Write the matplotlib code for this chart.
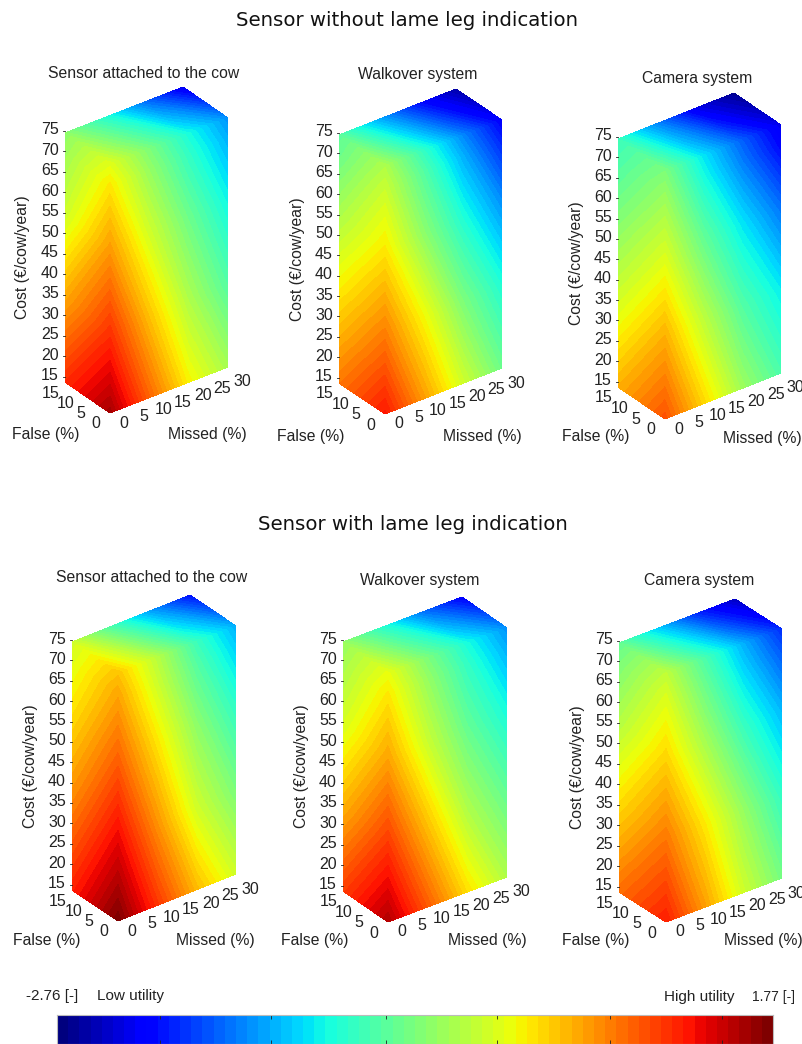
import matplotlib
matplotlib.use('Agg')
import matplotlib.pyplot as plt
import numpy as np

plt.rcParams['font.family'] = ['Liberation Sans', 'DejaVu Sans']

# Lattice the utilities were read on
cost_levels = np.array([15, 35, 55, 70, 75])
missed_levels = np.array([0, 10, 20, 30])
false_levels = np.array([0, 15])

cost_ticks = np.arange(15, 80, 5)
false_ticks = [0, 5, 10, 15]
missed_ticks = [0, 5, 10, 15, 20, 25, 30]

# Utilities as a position on the colour scale (0 = low utility, 1 = high utility).
# *_front: false = 0, rows = cost, columns = missed
# *_side: missed = 0, false = 15, one value per cost
# *_back: cost = 75, false = 15, missed = 10, 20, 30
attached_plain_front = [[0.96, 0.80, 0.65, 0.55],
                        [0.85, 0.70, 0.56, 0.45],
                        [0.74, 0.60, 0.48, 0.37],
                        [0.66, 0.53, 0.41, 0.30],
                        [0.62, 0.50, 0.38, 0.27]]
attached_plain_side = [0.86, 0.73, 0.60, 0.54, 0.52]
attached_plain_back = [0.40, 0.24, 0.10]

walkover_plain_front = [[0.88, 0.74, 0.60, 0.48],
                        [0.77, 0.64, 0.50, 0.39],
                        [0.66, 0.52, 0.39, 0.27],
                        [0.59, 0.45, 0.30, 0.16],
                        [0.56, 0.41, 0.26, 0.12]]
walkover_plain_side = [0.78, 0.67, 0.56, 0.48, 0.46]
walkover_plain_back = [0.30, 0.15, 0.04]

camera_plain_front = [[0.82, 0.68, 0.54, 0.44],
                      [0.72, 0.58, 0.45, 0.36],
                      [0.61, 0.47, 0.35, 0.24],
                      [0.53, 0.38, 0.25, 0.13],
                      [0.50, 0.35, 0.22, 0.10]]
camera_plain_side = [0.72, 0.61, 0.51, 0.44, 0.42]
camera_plain_back = [0.26, 0.10, 0.02]

attached_leg_front = [[0.995, 0.85, 0.71, 0.60],
                      [0.90, 0.75, 0.60, 0.50],
                      [0.80, 0.66, 0.52, 0.41],
                      [0.73, 0.59, 0.45, 0.33],
                      [0.70, 0.57, 0.42, 0.30]]
attached_leg_side = [0.87, 0.77, 0.68, 0.62, 0.60]
attached_leg_back = [0.44, 0.28, 0.14]

walkover_leg_front = [[0.95, 0.81, 0.67, 0.56],
                      [0.84, 0.70, 0.56, 0.47],
                      [0.73, 0.59, 0.47, 0.38],
                      [0.66, 0.53, 0.41, 0.30],
                      [0.63, 0.50, 0.38, 0.27]]
walkover_leg_side = [0.84, 0.72, 0.61, 0.55, 0.53]
walkover_leg_back = [0.40, 0.24, 0.12]

camera_leg_front = [[0.875, 0.74, 0.60, 0.49],
                    [0.78, 0.66, 0.53, 0.41],
                    [0.68, 0.55, 0.42, 0.31],
                    [0.61, 0.47, 0.33, 0.21],
                    [0.58, 0.44, 0.30, 0.17]]
camera_leg_side = [0.79, 0.68, 0.57, 0.50, 0.47]
camera_leg_back = [0.33, 0.17, 0.06]

# Colour bar tick positions on the same 0-1 scale
bar_ticks = [0.144, 0.299, 0.459, 0.615, 0.772, 0.929]

W, H = 803, 1044
fig = plt.figure(figsize=(W / 100, H / 100), dpi=100)
ax = fig.add_axes([0, 0, 1, 1])
ax.set_xlim(0, W)
ax.set_ylim(H, 0)
ax.axis('off')

jet = plt.get_cmap('jet', 64)
levels = np.linspace(0, 1, 65)
TEXT = '#222222'


def fill_face(X, Y, Z):
    ax.contourf(X, Y, np.asarray(Z), levels=levels, cmap=jet, vmin=0, vmax=1,
                antialiased=False)


def draw_panel(title, title_pos, corner, left, right, height, front, side, back,
               cost_x, false_off, missed_off):
    corner = np.array(corner, float)
    left = np.array(left, float)
    right = np.array(right, float)

    def project(false, missed, cost):
        false = np.asarray(false, float)
        missed = np.asarray(missed, float)
        cost = np.asarray(cost, float)
        x = corner[0] + (left[0] - corner[0]) * false / 15 + (right[0] - corner[0]) * missed / 30
        y = corner[1] + (left[1] - corner[1]) * false / 15 + (right[1] - corner[1]) * missed / 30
        return x, y - height * (cost - 15) / 60

    front = np.array(front)
    side = np.array(side)

    # front face, false = 0
    mm, cc = np.meshgrid(missed_levels, cost_levels)
    fill_face(*project(0 * mm, mm, cc), front)

    # left face, missed = 0
    ff, cc = np.meshgrid(false_levels, cost_levels)
    fill_face(*project(ff, 0 * ff, cc), np.column_stack([front[:, 0], side]))

    # top face, cost = 75
    mm, ff = np.meshgrid(missed_levels, false_levels)
    top = np.vstack([front[-1], np.concatenate([[side[-1]], back])])
    fill_face(*project(ff, mm, 0 * ff + 75), top)

    for c in cost_ticks:
        x, y = project(15, 0, c)
        y = y - 3 - (75 - c) / 60 * 3.5
        ax.plot([x - 2, x], [y + 1, y + 1], color=TEXT, lw=0.6)
        ax.text(x - 6, y, str(c), ha='right', va='center', fontsize=11.5, color=TEXT)
    for f in false_ticks:
        x, y = project(f, 0, 15)
        ax.text(x - 14, y + 11, str(f), ha='center', va='center', fontsize=11.5, color=TEXT)
    for m in missed_ticks:
        x, y = project(0, m, 15)
        ax.text(x + 14, y + 10 + m / 6, str(m), ha='center', va='center', fontsize=11.5, color=TEXT)

    ax.text(title_pos[0], title_pos[1], title, ha='center', va='center', fontsize=11.3, color=TEXT)
    ax.text(cost_x, project(15, 0, 45)[1], 'Cost (€/cow/year)', rotation=90,
            ha='center', va='center', fontsize=11.3, color=TEXT)
    ax.text(left[0] + false_off[0], left[1] + false_off[1], 'False (%)',
            ha='center', va='center', fontsize=11.3, color=TEXT)
    ax.text(right[0] + missed_off[0], right[1] + missed_off[1], 'Missed (%)',
            ha='center', va='center', fontsize=11.3, color=TEXT)


draw_panel('Sensor attached to the cow', (144, 73), (110, 413), (65, 382), (228, 367), 249,
           attached_plain_front, attached_plain_side, attached_plain_back, 23, (-19, 52), (-21, 68))
draw_panel('Walkover system', (418, 75), (385, 414), (339, 383), (502, 368), 248,
           walkover_plain_front, walkover_plain_side, walkover_plain_back, 298, (-28, 53), (-20, 69))
draw_panel('Camera system', (697, 78), (665, 419), (618, 387), (781, 373), 248,
           camera_plain_front, camera_plain_side, camera_plain_back, 577, (-22, 50), (-19, 65))
draw_panel('Sensor attached to the cow', (152, 578), (118, 921), (72, 890), (236, 874), 248,
           attached_leg_front, attached_leg_side, attached_leg_back, 31, (-25, 51), (-21, 67))
draw_panel('Walkover system', (420, 580), (388, 922), (343, 891), (507, 877), 249,
           walkover_leg_front, walkover_leg_side, walkover_leg_back, 302, (-28, 49), (-20, 63))
draw_panel('Camera system', (699, 581), (666, 922), (619, 892), (782, 878), 249,
           camera_leg_front, camera_leg_side, camera_leg_back, 578, (-23, 49), (-19, 63))

ax.text(407, 20, 'Sensor without lame leg indication', ha='center', va='center',
        fontsize=14.2, family='DejaVu Sans', color='#111111')
ax.text(413, 525, 'Sensor with lame leg indication', ha='center', va='center',
        fontsize=14.2, family='DejaVu Sans', color='#111111')

ax.text(26, 996, '-2.76 [-]', ha='left', va='center', fontsize=11, color=TEXT)
ax.text(97, 996, 'Low utility', ha='left', va='center', fontsize=11, color=TEXT)
ax.text(664, 997, 'High utility', ha='left', va='center', fontsize=11, color=TEXT)
ax.text(752, 997, '1.77 [-]', ha='left', va='center', fontsize=10, color=TEXT)

cax = fig.add_axes([57 / W, 0, (773 - 57) / W, (H - 1015) / H])
cax.imshow(np.linspace(0, 1, 64).reshape(1, -1), cmap=jet, aspect='auto', extent=[0, 1, 0, 1])
cax.set_xticks(bar_ticks)
cax.set_yticks([])
cax.set_xticklabels([])
cax.tick_params(axis='x', direction='in', top=True, bottom=True, length=3, width=0.6, color='#222222')
for spine in cax.spines.values():
    spine.set_color('#bbbbbb')
    spine.set_linewidth(0.8)

fig.savefig('out.png', dpi=100)
